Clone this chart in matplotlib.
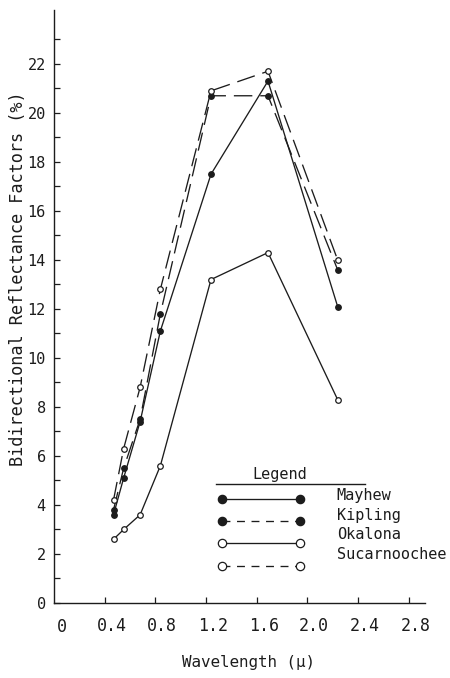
import numpy as np
import matplotlib
matplotlib.use("Agg")
import matplotlib.pyplot as plt
from matplotlib.lines import Line2D
from matplotlib.transforms import ScaledTranslation

plt.rcParams['font.family'] = ['DejaVu Sans Mono']

# wavelengths (microns)
wavelength = [0.47, 0.55, 0.68, 0.84, 1.24, 1.69, 2.24]

mayhew = [3.6, 5.1, 7.4, 11.1, 17.5, 21.3, 12.1]
kipling = [3.8, 5.5, 7.5, 11.8, 20.7, 20.7, 13.6]
okalona = [2.6, 3.0, 3.6, 5.6, 13.2, 14.3, 8.3]
sucarnoochee = [4.2, 6.3, 8.8, 12.8, 20.9, 21.7, 14.0]

soils = ["Mayhew", "Kipling", "Okalona", "Sucarnoochee"]
xticks = [0.4, 0.8, 1.2, 1.6, 2.0, 2.4, 2.8]
xticklabels = ["0.4", "0.8", "1.2", "1.6", "2.0", "2.4", "2.8"]

ink = "#1c1c1c"
dash_data = (0, (14, 6))
dash_leg = (0, (6, 5))

styles = {
    "Mayhew": dict(ls="-", mfc=ink),
    "Kipling": dict(ls=dash_data, mfc=ink),
    "Okalona": dict(ls="-", mfc="white"),
    "Sucarnoochee": dict(ls=dash_data, mfc="white"),
}
values = {"Mayhew": mayhew, "Kipling": kipling,
          "Okalona": okalona, "Sucarnoochee": sucarnoochee}

fig = plt.figure(figsize=(4.5, 6.78), dpi=100)
ax = fig.add_axes([54 / 450, 75 / 678, 371 / 450, 593 / 678])

for name in soils:
    st = styles[name]
    ax.plot(wavelength, values[name], color=ink, lw=0.95, linestyle=st["ls"],
            marker="o", ms=4, mfc=st["mfc"], mec=ink, mew=0.9, zorder=3)

ax.set_xlim(0, 2.93)
ax.set_ylim(0, 24.2)
ax.spines["top"].set_visible(False)
ax.spines["right"].set_visible(False)
for s in ["left", "bottom"]:
    ax.spines[s].set_color(ink)
    ax.spines[s].set_linewidth(1.0)

ax.set_xticks(xticks)
ax.set_xticklabels(xticklabels)
ax.set_yticks(np.arange(0, 23, 2))
ax.set_yticks(np.arange(1, 24, 2), minor=True)
ax.tick_params(axis="both", which="both", direction="in", length=4,
               color=ink, width=0.9)
ax.tick_params(axis="x", labelsize=12, pad=10, labelcolor=ink)
ax.tick_params(axis="y", labelsize=11, pad=6, labelcolor=ink)

# typed labels sit a little right of the ticks
shift = ScaledTranslation(7 / 100, 0, fig.dpi_scale_trans)
for lab in ax.get_xticklabels():
    lab.set_transform(lab.get_transform() + shift)

# the origin label sits under the corner
ax.text(0.0, 0.0, "0", transform=ax.transAxes + ScaledTranslation(8 / 100, -24 / 100, fig.dpi_scale_trans),
        ha="center", va="center", fontsize=12, color=ink)

fig.text(249 / 450, 1 - 662 / 678, "Wavelength (\u03bc)", ha="center", va="center",
         fontsize=11.4, color=ink)
fig.text(18 / 450, 1 - 279 / 678, "Bidirectional Reflectance Factors (%)",
         rotation=90, ha="center", va="center", fontsize=12.2, color=ink)

# hand drawn legend box
ax.text(0.609, 0.216, "Legend", transform=ax.transAxes, ha="center", va="center",
        fontsize=11, color=ink)
ax.add_line(Line2D([0.437, 0.838], [0.200, 0.200], transform=ax.transAxes,
                   color=ink, lw=1.0))
row_y = [0.175, 0.139, 0.101, 0.063]
lab_y = [0.181, 0.148, 0.116, 0.082]
for name, ry, ly in zip(soils, row_y, lab_y):
    st = styles[name]
    ls = dash_leg if st["ls"] != "-" else "-"
    ax.add_line(Line2D([0.452, 0.663], [ry, ry], transform=ax.transAxes,
                       color=ink, lw=0.95, linestyle=ls, marker="o", ms=6,
                       mfc=st["mfc"], mec=ink, mew=0.9))
    ax.text(0.762, ly, name, transform=ax.transAxes, ha="left", va="center",
            fontsize=11, color=ink)

fig.savefig("out.png", dpi=100)
